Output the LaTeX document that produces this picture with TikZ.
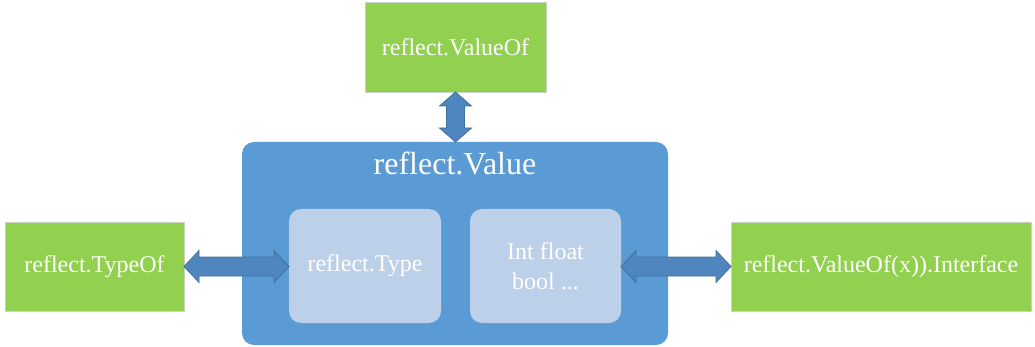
\documentclass[tikz,border=0pt]{standalone}
\usepackage{fontspec}
\setmainfont{Liberation Serif}
\usetikzlibrary{calc}
\definecolor{leaf}{HTML}{92D050}
\definecolor{leafedge}{HTML}{C9D3C2}
\definecolor{panel}{HTML}{5B9BD5}
\definecolor{innerfill}{HTML}{BDD0E9}
\definecolor{arrowfill}{HTML}{4F86BF}
\definecolor{arrowline}{HTML}{41719C}
\begin{document}
\begin{tikzpicture}[x=1pt,y=-1pt,
  box/.style={anchor=north west, inner sep=0pt, outer sep=0pt, text=white, align=center},
  greenbox/.style={box, fill=leaf, draw=leafedge, line width=0.8pt,
    font=\fontsize{24}{28}\selectfont},
  innerbox/.style={box, fill=innerfill, rounded corners=12pt,
    font=\fontsize{24}{30}\selectfont},
  panelbox/.style={box, fill=panel, rounded corners=12pt},
  arr/.style={fill=arrowfill, draw=arrowline, line width=0.8pt, line join=miter}
]
\useasboundingbox (0,0) rectangle (1035,347);

% outer container
\node[panelbox, minimum width=426pt, minimum height=203pt] (panel) at (242,142) {};
\node[anchor=base, text=white, font=\fontsize{32}{36}\selectfont] (title) at (455,175) {reflect.Value};

% inner boxes
\node[innerbox, minimum width=152pt, minimum height=114pt] (type) at (289,209) {reflect.Type};
\node[innerbox, minimum width=151pt, minimum height=114pt] (kinds) at (470,209) {Int float\\bool ...};

% outer functions
\node[greenbox, minimum width=181pt, minimum height=90pt] (vof) at (365,2) {reflect.ValueOf};
\node[greenbox, minimum width=179pt, minimum height=89pt] (tof) at (5,222) {reflect.TypeOf};
\node[greenbox, minimum width=300pt, minimum height=89pt] (iface) at (731,222) {reflect.ValueOf(x)).Interface};

% double arrows
\path let \p1=(tof.east), \p2=(type.west) in
  [arr] (\x1,\y1) -- (\x1+15pt,\y1+16pt) -- (\x1+15pt,\y1+9.5pt) -- (\x2-15pt,\y1+9.5pt)
  -- (\x2-15pt,\y1+16pt) -- (\x2,\y1) -- (\x2-15pt,\y1-16pt) -- (\x2-15pt,\y1-9.5pt)
  -- (\x1+15pt,\y1-9.5pt) -- (\x1+15pt,\y1-16pt) -- cycle;

\path let \p1=(kinds.east), \p2=(iface.west) in
  [arr] (\x1,\y2) -- (\x1+15pt,\y2+16pt) -- (\x1+15pt,\y2+9.5pt) -- (\x2-15pt,\y2+9.5pt)
  -- (\x2-15pt,\y2+16pt) -- (\x2,\y2) -- (\x2-15pt,\y2-16pt) -- (\x2-15pt,\y2-9.5pt)
  -- (\x1+15pt,\y2-9.5pt) -- (\x1+15pt,\y2-16pt) -- cycle;

\path let \p1=(vof.south), \p2=(panel.north) in
  [arr] (\x1,\y1) -- (\x1+16pt,\y1-14pt) -- (\x1+9pt,\y1-14pt) -- (\x1+9pt,\y2+14pt)
  -- (\x1+16pt,\y2+14pt) -- (\x1,\y2) -- (\x1-16pt,\y2+14pt) -- (\x1-9pt,\y2+14pt)
  -- (\x1-9pt,\y1-14pt) -- (\x1-16pt,\y1-14pt) -- cycle;
\end{tikzpicture}
\end{document}
